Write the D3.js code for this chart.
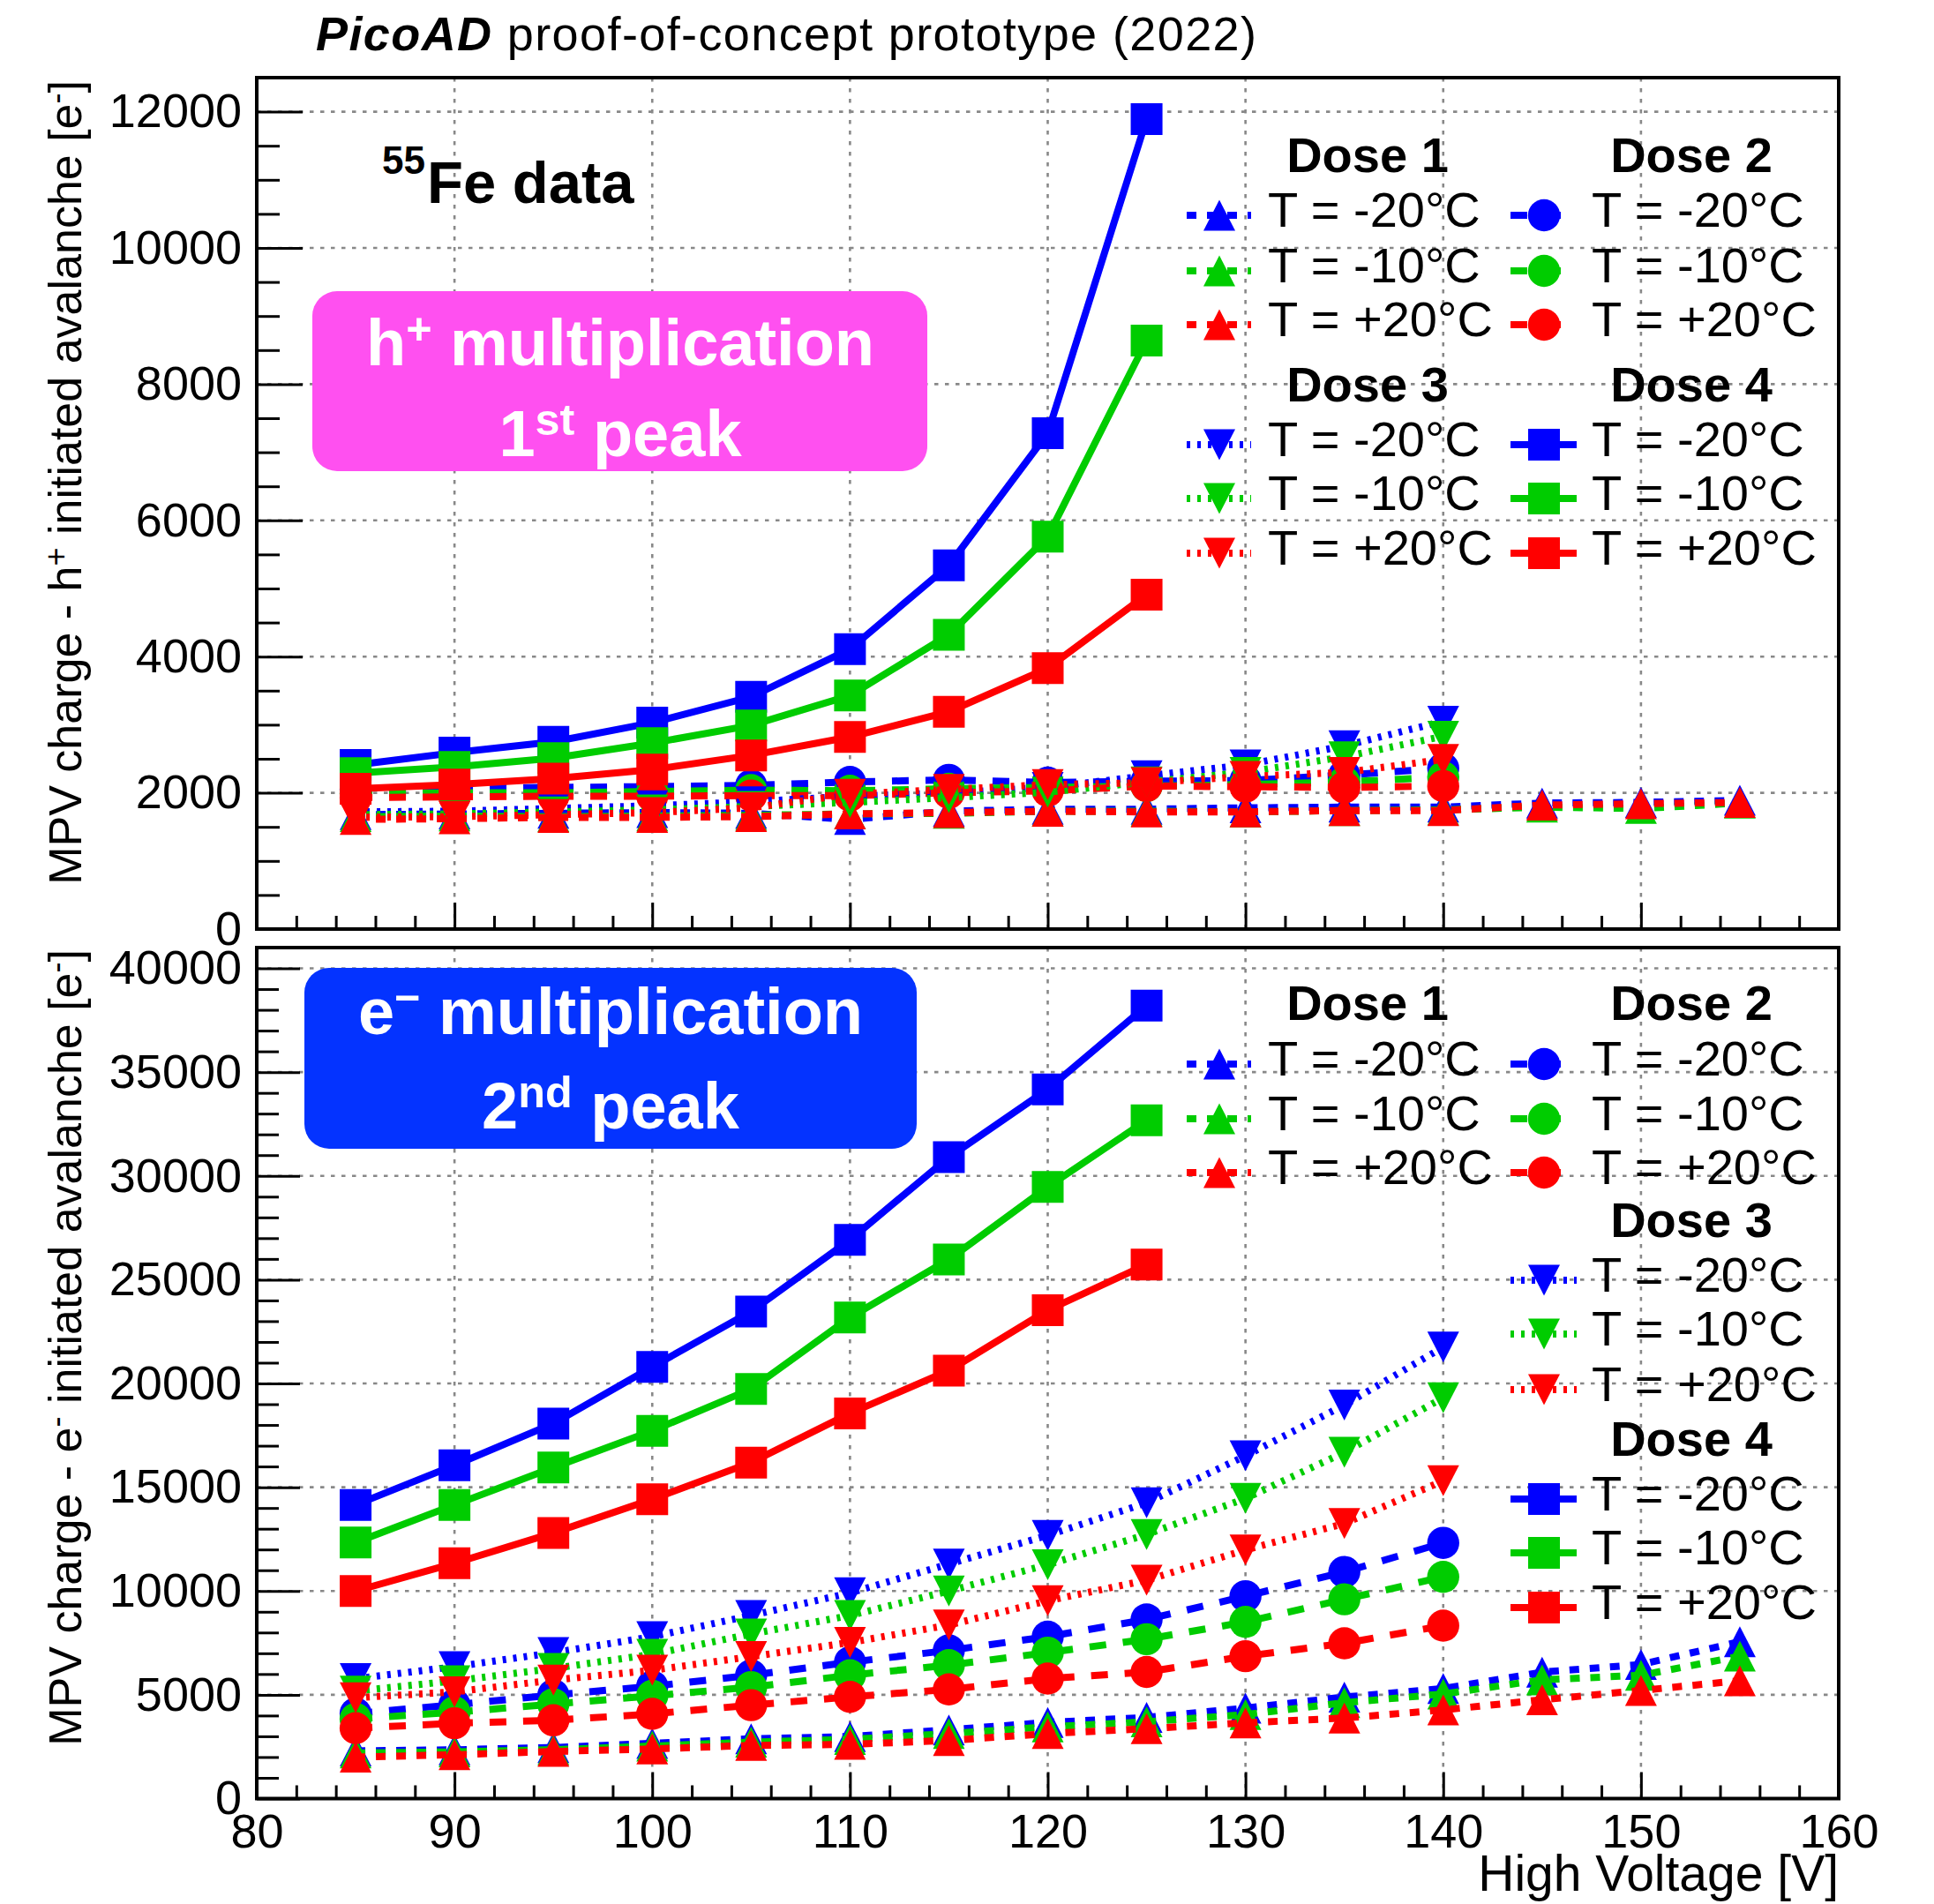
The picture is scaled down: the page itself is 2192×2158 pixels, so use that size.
<!DOCTYPE html>
<html><head><meta charset="utf-8">
<script src="https://cdn.jsdelivr.net/npm/d3@7"></script>
<style>
body{margin:0;background:#fff}
text{font-family:"Liberation Sans",Arial,Helvetica,sans-serif}
</style>
</head><body>
<svg id="c" width="2192" height="2158"></svg>
<script>
// ---------------- DATA ----------------
const hvDose1 = [85,90,95,100,105,110,115,120,125,130,135,140,145,150,155];
const hvDose2 = [85,90,95,100,105,110,115,120,125,130,135,140];
const hvDose3 = [85,90,95,100,105,110,115,120,125,130,135,140];
const hvDose4 = [85,90,95,100,105,110,115,120,125];
const tempLabels = ["T = -20°C","T = -10°C","T = +20°C"];
const doseLabels = ["Dose 1","Dose 2","Dose 3","Dose 4"];

// h+ initiated avalanche (1st peak)
const hD1m20 = [1680,1690,1700,1710,1700,1610,1730,1760,1760,1780,1790,1790,1850,1860,1890];
const hD1m10 = [1650,1660,1650,1660,1670,1690,1700,1730,1730,1720,1740,1750,1790,1770,1850];
const hD1p20 = [1610,1620,1640,1640,1650,1690,1710,1730,1720,1720,1740,1740,1820,1840,1860];
const hD2m20 = [2050,2070,2080,2090,2110,2160,2190,2150,2170,2180,2260,2360];
const hD2m10 = [1990,2000,2000,2020,2040,2030,2060,2080,2100,2120,2160,2230];
const hD2p20 = [1930,1940,1950,1950,1960,1960,2000,2030,2100,2090,2080,2100];
const hD3m20 = [1720,1730,1770,1810,1870,1950,2000,2080,2250,2410,2690,3050];
const hD3m10 = [1680,1690,1720,1750,1800,1860,1930,2010,2160,2300,2530,2830];
const hD3p20 = [1640,1650,1680,1710,1780,1980,2050,2120,2150,2240,2300,2490];
const hD4m20 = [2410,2590,2750,3030,3410,4110,5340,7280,11890];
const hD4m10 = [2290,2380,2510,2730,2990,3430,4320,5760,8640];
const hD4p20 = [2060,2120,2210,2340,2550,2820,3190,3830,4910];

// e- initiated avalanche (2nd peak)
const eD1m20 = [2300,2350,2460,2660,2880,2990,3310,3670,3910,4360,4890,5300,6090,6460,7560];
const eD1m10 = [2200,2250,2350,2530,2720,2850,3130,3450,3700,4050,4620,5040,5720,5940,6860];
const eD1p20 = [2000,2110,2270,2390,2560,2610,2800,3130,3370,3650,3880,4270,4760,5210,5680];
const eD2m20 = [4100,4520,4990,5410,5940,6570,7140,7800,8630,9750,10920,12320];
const eD2m10 = [3840,4160,4550,4950,5370,5940,6430,7030,7680,8510,9600,10680];
const eD2p20 = [3390,3630,3770,4080,4500,4900,5260,5780,6100,6860,7480,8330];
const eD3m20 = [5780,6350,7030,7800,8820,9910,11300,12680,14250,16510,18960,21750];
const eD3m10 = [5180,5670,6270,6950,7930,8820,10000,11270,12720,14460,16680,19310];
const eD3p20 = [4860,5140,5710,6180,6840,7520,8360,9530,10520,11980,13250,15310];
const eD4m20 = [14150,16060,18070,20800,23470,26920,30900,34170,38200];
const eD4m10 = [12340,14150,15950,17720,19730,23180,25970,29470,32680];
const eD4p20 = [10000,11340,12800,14420,16190,18560,20620,23530,25730];

const xTicks = [80,90,100,110,120,130,140,150,160];
const hYTicks = [0,2000,4000,6000,8000,10000,12000];
const eYTicks = [0,5000,10000,15000,20000,25000,30000,35000,40000];

// ---------------- STYLE ----------------
const tempColors = ["#0000ff","#00cc00","#ff0000"];
const doseDash = ["11,12","19,19","4,8",null];
const doseMarker = ["tu","c","td","s"];
const LW = 8;
const FONT = '"Liberation Sans",Arial,Helvetica,sans-serif';

const svg = d3.select("#c");
const X0 = 291, X1 = 2084;
const x = d3.scaleLinear().domain([80,160]).range([X0,X1]);

function markerPath(t){
  const a = 18, b = 17.5;
  if (t==="tu") return `M0,${-b}L${a},${b}L${-a},${b}Z`;
  if (t==="td") return `M0,${b}L${a},${-b}L${-a},${-b}Z`;
  if (t==="s") return `M-18,-18H18V18H-18Z`;
  return d3.arc()({innerRadius:0,outerRadius:18.2,startAngle:0,endAngle:2*Math.PI});
}

const hvByDose = [hvDose1,hvDose2,hvDose3,hvDose4];
const panels = [
  { key:"h", top:88, bottom:1053, ymax:12500, ticks:hYTicks, minorStep:500, majLen:52, minLen:26,
    series:[[hD1m20,hD1m10,hD1p20],[hD2m20,hD2m10,hD2p20],[hD3m20,hD3m10,hD3p20],[hD4m20,hD4m10,hD4p20]],
    xLabels:false },
  { key:"e", top:1074, bottom:2038.5, ymax:41000, ticks:eYTicks, minorStep:1000, majLen:49, minLen:25,
    series:[[eD1m20,eD1m10,eD1p20],[eD2m20,eD2m10,eD2p20],[eD3m20,eD3m10,eD3p20],[eD4m20,eD4m10,eD4p20]],
    xLabels:true }
];

panels.forEach(p=>{
  const y = d3.scaleLinear().domain([0,p.ymax]).range([p.bottom,p.top]);
  p.y = y;
  const g = svg.append("g");
  // grid
  const grid = g.append("g").attr("stroke","#888").attr("stroke-width",2.6).attr("stroke-dasharray","4.5,7.5");
  grid.selectAll("line.v").data(xTicks.slice(1,-1)).join("line")
    .attr("x1",d=>x(d)).attr("x2",d=>x(d)).attr("y1",p.top).attr("y2",p.bottom);
  grid.selectAll("line.h").data(p.ticks.filter(t=>t>0)).join("line")
    .attr("y1",d=>y(d)).attr("y2",d=>y(d)).attr("x1",X0).attr("x2",X1);

  // series
  p.series.forEach((doseSet,di)=>{
    doseSet.forEach((vals,ti)=>{
      const pts = hvByDose[di].map((v,i)=>[v,vals[i]]);
      const sg = g.append("g");
      sg.append("path").datum(pts)
        .attr("d",d3.line().x(d=>x(d[0])).y(d=>y(d[1])))
        .attr("fill","none").attr("stroke",tempColors[ti]).attr("stroke-width",LW)
        .attr("stroke-dasharray",doseDash[di]);
      sg.selectAll("path.m").data(pts).join("path").attr("class","m")
        .attr("d",markerPath(doseMarker[di]))
        .attr("transform",d=>`translate(${x(d[0])},${y(d[1])})`)
        .attr("fill",tempColors[ti]);
    });
  });

  // axes
  const minorY = d3.range(0,p.ymax+1,p.minorStep).filter(v=>!p.ticks.includes(v));
  const ay = g.append("g").attr("transform",`translate(${X0},0)`)
    .call(d3.axisLeft(y).tickValues(p.ticks).tickSize(-p.majLen).tickPadding(17).tickFormat(d3.format("d")));
  const ayMin = g.append("g").attr("transform",`translate(${X0},0)`)
    .call(d3.axisLeft(y).tickValues(minorY).tickSize(-p.minLen).tickFormat(""));
  const minorX = d3.range(80,161,2).filter(v=>!xTicks.includes(v));
  const ax = g.append("g").attr("transform",`translate(0,${p.bottom})`)
    .call(d3.axisBottom(x).tickValues(xTicks).tickSize(-30).tickPadding(17)
      .tickFormat(p.xLabels ? d3.format("d") : ""));
  const axMin = g.append("g").attr("transform",`translate(0,${p.bottom})`)
    .call(d3.axisBottom(x).tickValues(minorX).tickSize(-15).tickFormat(""));
  [ay,ayMin,ax,axMin].forEach(a=>{
    a.select(".domain").remove();
    a.selectAll(".tick line").attr("stroke","#000").attr("stroke-width",3);
    a.selectAll(".tick text").attr("font-family",FONT).attr("font-size",54).attr("fill","#000");
  });
  // frame
  g.append("rect").attr("x",X0).attr("y",p.top).attr("width",X1-X0).attr("height",p.bottom-p.top)
    .attr("fill","none").attr("stroke","#000").attr("stroke-width",4);
});

// ---------------- TEXTS ----------------
const title = svg.append("text").attr("x",358).attr("y",57).attr("font-size",54).attr("fill","#000")
  .attr("textLength",1066).attr("lengthAdjust","spacing");
title.append("tspan").attr("font-weight","bold").attr("font-style","italic").text("PicoAD");
title.append("tspan").text(" proof-of-concept prototype (2022)");

svg.append("text").attr("x",433).attr("y",197).attr("font-size",44).attr("font-weight","bold").text("55");
svg.append("text").attr("x",484).attr("y",230).attr("font-size",67).attr("font-weight","bold").text("Fe data");

function supText(parent, xx, yy, parts, size, color, anchor){
  const t = parent.append("text").attr("x",xx).attr("y",yy).attr("font-size",size)
    .attr("fill",color).attr("text-anchor",anchor||"middle");
  parts.forEach(([s,sup])=>{
    const ts = t.append("tspan").text(s);
    if (sup) ts.attr("font-size",size*0.68).attr("baseline-shift","48%");
  });
  return t;
}

// boxes
svg.append("rect").attr("x",354).attr("y",330).attr("width",697).attr("height",204).attr("rx",28).attr("fill","#ff50f0");
supText(svg,703,414,[["h"],["+",1],[" multiplication"]],74,"#fff").attr("font-weight","bold");
supText(svg,703,517,[["1"],["st",1],[" peak"]],74,"#fff").attr("font-weight","bold");
svg.append("rect").attr("x",345).attr("y",1097).attr("width",694).attr("height",205).attr("rx",28).attr("fill","#0433ff");
supText(svg,692,1172,[["e"],["\u2212",1],[" multiplication"]],74,"#fff").attr("font-weight","bold");
supText(svg,692,1279,[["2"],["nd",1],[" peak"]],74,"#fff").attr("font-weight","bold");

// axis titles
function yTitle(cx, yEnd, parts){
  const t = svg.append("text").attr("transform",`translate(${cx},${yEnd}) rotate(-90)`)
    .attr("text-anchor","end").attr("font-size",52).attr("fill","#000");
  parts.forEach(([s,sup])=>{
    const ts = t.append("tspan").text(s);
    if (sup) ts.attr("font-size",36).attr("baseline-shift","45%");
  });
}
yTitle(92,91,[["MPV charge - h"],["+",1],[" initiated avalanche [e"],["-",1],["]"]]);
yTitle(92,1076,[["MPV charge - e"],["-",1],[" initiated avalanche [e"],["-",1],["]"]]);
svg.append("text").attr("x",2084).attr("y",2143).attr("text-anchor","end").attr("font-size",57).text("High Voltage [V]");

// ---------------- LEGENDS ----------------
const legCols = [
  {lx1:1345,lx2:1418,mx:1382,tx:1437,hx:1550},
  {lx1:1712,lx2:1787,mx:1750,tx:1804,hx:1917}
];
// blocks: [dose index, column, header baseline, entry baselines]
const legendBlocks = [
  [0,0,195,[257,320,381]],
  [1,1,195,[257,320,381]],
  [2,0,455,[517,578,640]],
  [3,1,455,[517,578,640]],
  [0,0,1156,[1219,1281,1342]],
  [1,1,1156,[1219,1281,1342]],
  [2,1,1402,[1464,1525,1588]],
  [3,1,1650,[1712,1773,1835]]
];
legendBlocks.forEach(([di,ci,hy,rows])=>{
  const c = legCols[ci];
  svg.append("text").attr("x",c.hx).attr("y",hy).attr("text-anchor","middle")
    .attr("font-size",56).attr("font-weight","bold").text(doseLabels[di]);
  rows.forEach((ry,ti)=>{
    const my = ry-13;
    svg.append("line").attr("x1",c.lx1).attr("x2",c.lx2).attr("y1",my).attr("y2",my)
      .attr("stroke",tempColors[ti]).attr("stroke-width",LW).attr("stroke-dasharray",doseDash[di]);
    svg.append("path").attr("d",markerPath(doseMarker[di])).attr("transform",`translate(${c.mx},${my})`)
      .attr("fill",tempColors[ti]);
    svg.append("text").attr("x",c.tx).attr("y",ry).attr("font-size",56).text(tempLabels[ti]);
  });
});
</script>
</body></html>
